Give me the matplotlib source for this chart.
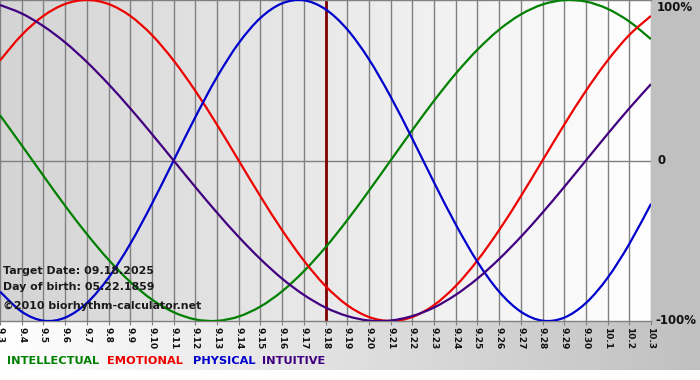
import numpy as np
import matplotlib.pyplot as plt
from matplotlib.colors import LinearSegmentedColormap
from matplotlib.path import Path
from matplotlib.patches import PathPatch

days = ["9.3", "9.4", "9.5", "9.6", "9.7", "9.8", "9.9", "9.10", "9.11", "9.12",
        "9.13", "9.14", "9.15", "9.16", "9.17", "9.18", "9.19", "9.20", "9.21", "9.22",
        "9.23", "9.24", "9.25", "9.26", "9.27", "9.28", "9.29", "9.30", "10.1", "10.2", "10.3"]
target_day = "9.18"

physical = [-0.817, -0.942, -0.998, -0.979, -0.888, -0.731, -0.520, -0.270, 0.000, 0.270,
            0.520, 0.731, 0.888, 0.979, 0.998, 0.942, 0.817, 0.631, 0.398, 0.136,
            -0.136, -0.398, -0.631, -0.817, -0.942, -0.998, -0.979, -0.888, -0.731, -0.520, -0.270]
emotional = [0.623, 0.782, 0.901, 0.975, 1.000, 0.975, 0.901, 0.782, 0.623, 0.434,
             0.223, 0.000, -0.223, -0.434, -0.623, -0.782, -0.901, -0.975, -1.000, -0.975,
             -0.901, -0.782, -0.623, -0.434, -0.223, 0.000, 0.223, 0.434, 0.623, 0.782, 0.901]
intellectual = [0.282, 0.095, -0.095, -0.282, -0.458, -0.618, -0.756, -0.866, -0.945, -0.990,
                -0.999, -0.972, -0.910, -0.815, -0.690, -0.541, -0.372, -0.189, 0.000, 0.189,
                0.372, 0.541, 0.690, 0.815, 0.910, 0.972, 0.999, 0.990, 0.945, 0.866, 0.756]
intuitive = [0.969, 0.916, 0.837, 0.736, 0.614, 0.476, 0.325, 0.165, 0.000, -0.165,
             -0.325, -0.476, -0.614, -0.736, -0.837, -0.916, -0.969, -0.997, -0.997, -0.969,
             -0.916, -0.837, -0.736, -0.614, -0.476, -0.325, -0.165, 0.000, 0.165, 0.325, 0.476]

names = ["INTELLECTUAL", "EMOTIONAL", "PHYSICAL", "INTUITIVE"]
colors = ["#008000", "#ee0000", "#0000cc", "#400080"]

W, H = 700, 380


def smooth_path(xs, ys):
    # Catmull-Rom through the points, drawn as cubic Bezier segments
    pts = np.column_stack([xs, ys]).astype(float)
    verts = [pts[0]]
    codes = [Path.MOVETO]
    n = len(pts)
    for i in range(n - 1):
        p0 = pts[i - 1] if i > 0 else pts[i]
        p1, p2 = pts[i], pts[i + 1]
        p3 = pts[i + 2] if i + 2 < n else pts[i + 1]
        verts += [p1 + (p2 - p0) / 6, p2 - (p3 - p1) / 6, p2]
        codes += [Path.CURVE4] * 3
    return Path(verts, codes)


fig = plt.figure(figsize=(7, 3.8), dpi=100)

# background (pixel coords)
bg = fig.add_axes([0, 0, 1, 1])
bg.set_xlim(0, W)
bg.set_ylim(H, 0)
bg.axis("off")
bg.add_patch(plt.Rectangle((0, 0), W, H, color="white", zorder=0))
grad = LinearSegmentedColormap.from_list("g", ["#ffffff", "#c0c0c0"])
bg.imshow(np.linspace(0, 1, 256)[None, :], cmap=grad, aspect="auto",
          extent=(0, W, 370, 321), zorder=1)
bg.add_patch(plt.Rectangle((651, 0), W - 651, 321, color="#c0c0c0", zorder=2))

# main plot
x = np.arange(len(days))
ax = fig.add_axes([0, 1 - 321 / H, 651 / W, 321 / H])
ax.set_xlim(0, len(days) - 1)
ax.set_ylim(-1.0, 1.0)
pgrad = LinearSegmentedColormap.from_list("p", ["#d4d4d4", "#ffffff"])
ax.imshow(np.linspace(0, 1, 256)[None, :], cmap=pgrad, aspect="auto",
          extent=(0, len(days) - 1, -1, 1), zorder=0)

for xi in x:
    ax.axvline(xi, color="#808080", lw=1, zorder=1)
ax.axhline(0, color="#808080", lw=1, zorder=1)
ax.axvline(days.index(target_day), color="#800000", lw=2, zorder=2)

for vals, c in zip([intellectual, emotional, physical, intuitive], colors):
    ax.add_patch(PathPatch(smooth_path(x, vals), facecolor="none", edgecolor=c,
                           lw=1.6, zorder=3))

for s in ["left", "right"]:
    ax.spines[s].set_visible(False)
for s in ["top", "bottom"]:
    ax.spines[s].set_color("#808080")
    ax.spines[s].set_linewidth(1)

ax.set_yticks([])
ax.set_xticks(x)
ax.set_xticklabels(days, rotation=-90, fontsize=6.5, fontweight="bold", color="#111111")
ax.tick_params(axis="x", length=3, color="#808080", pad=1)

# right-side labels
for yv, lab in [(0.955, "100%"), (0.0, "0"), (-1.0, "-100%")]:
    ax.text(1.0 + (6 if lab != "-100%" else 4) / 651, yv, lab, transform=ax.get_yaxis_transform(),
            fontsize=8.5, fontweight="bold", va="center", ha="left", color="#111111", clip_on=False)

# info text
for yp, txt in [(271, "Target Date: 09.18.2025"), (287, "Day of birth: 05.22.1859"),
                (306, "\u00a92010 biorhythm-calculator.net")]:
    fig.text(3 / W, 1 - yp / H, txt, fontsize=7.9, fontweight="bold", color="#1a1a1a",
             va="center", ha="left", zorder=10)

# legend text
for xp, n, c in zip([7, 107, 193, 262], names, colors):
    fig.text(xp / W, 1 - 361 / H, n, fontsize=8.2, fontweight="bold", color=c,
             va="center", ha="left", zorder=10)

fig.savefig("out.png", dpi=100)
